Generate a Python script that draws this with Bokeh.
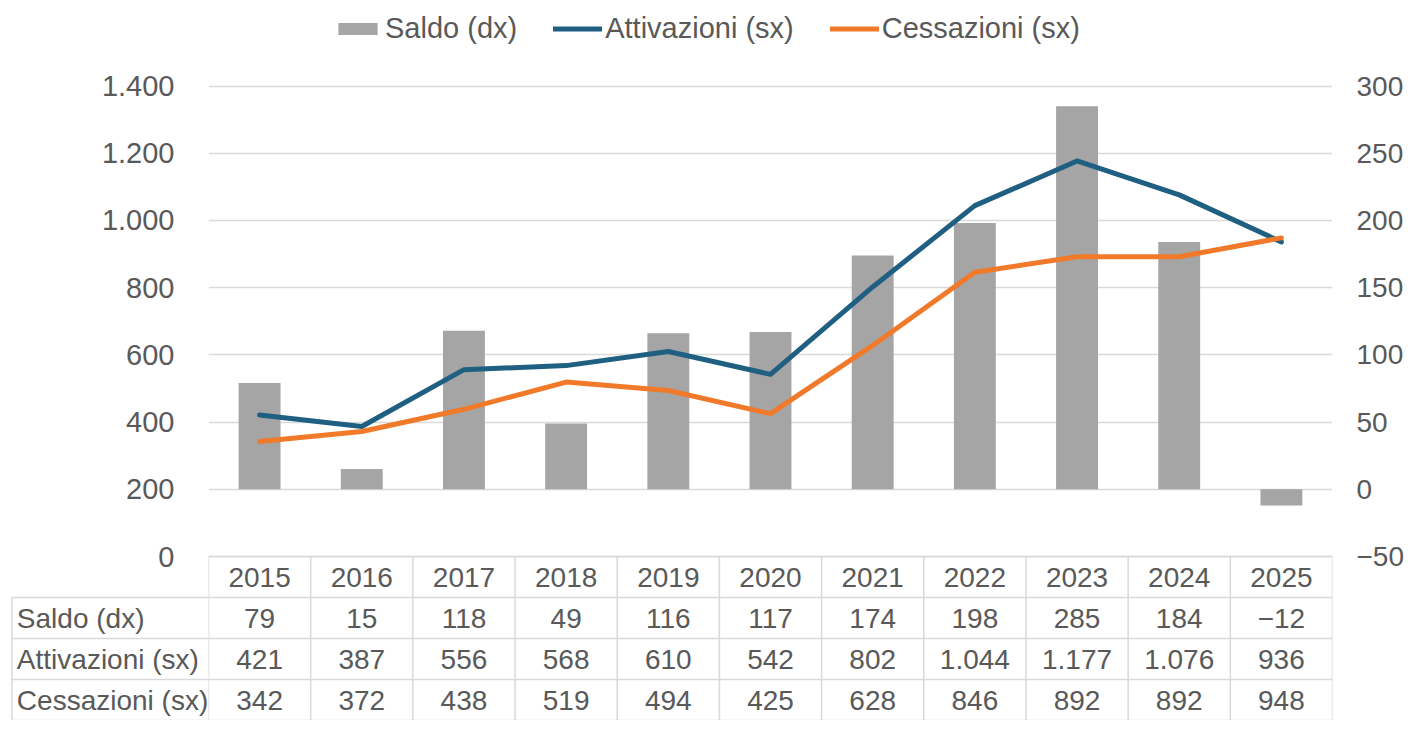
from bokeh.plotting import figure
from bokeh.models import (Range1d, LinearAxis, FixedTicker, Legend, LegendItem,
                          ColumnDataSource)
from bokeh.core.properties import value
from bokeh.embed import file_html
from bokeh.resources import INLINE

# ---------------- data ----------------
years = ["2015", "2016", "2017", "2018", "2019", "2020", "2021", "2022", "2023", "2024", "2025"]
saldo = [79, 15, 118, 49, 116, 117, 174, 198, 285, 184, -12]
attivazioni = [421, 387, 556, 568, 610, 542, 802, 1044, 1177, 1076, 936]
cessazioni = [342, 372, 438, 519, 494, 425, 628, 846, 892, 892, 948]
series_names = ["Saldo (dx)", "Attivazioni (sx)", "Cessazioni (sx)"]
left_ticks = [0, 200, 400, 600, 800, 1000, 1200, 1400]
right_ticks = [-50, 0, 50, 100, 150, 200, 250, 300]

# ---------------- styles / layout ----------------
FONT = "Liberation Sans"
TXT = "#595959"
GRID = "#D9D9D9"
C_BAR = "#A5A5A5"
C_ATT = "#1F5F82"
C_CES = "#F07A2A"

W, H = 1406, 720
B_LEFT, B_RIGHT = 208, 66
Y0_PX = 556.0      # canvas y of left value 0
YTOP_PX = 85.5     # canvas y of left value 1400
ROW_H = 41.0
LABEL_COL_PX = 198.0

n = len(years)
colw = (W - B_LEFT - B_RIGHT) / n
scale = (Y0_PX - YTOP_PX) / left_ticks[-1]
l_start = -(H - Y0_PX) / scale
l_end = Y0_PX / scale
# right axis: left 0 -> -50, left 1400 -> 300
r_lo, r_hi = right_ticks[0], right_ticks[-1]
k = (r_hi - r_lo) / (left_ticks[-1] - left_ticks[0])
r_start = r_lo + l_start * k
r_end = r_lo + l_end * k

p = figure(width=W, height=H, output_backend="svg", toolbar_location=None,
           x_range=Range1d(0, n), y_range=Range1d(l_start, l_end),
           x_axis_location=None, y_axis_location=None, title=None,
           min_border_left=B_LEFT, min_border_right=B_RIGHT,
           min_border_top=0, min_border_bottom=0)
p.outline_line_color = None
p.background_fill_color = "white"
p.extra_y_ranges = {"saldo": Range1d(r_start, r_end),
                    "tbl": Range1d(-(H - Y0_PX), Y0_PX)}

p.xgrid.visible = False
p.ygrid.ticker = FixedTicker(ticks=left_ticks)
p.ygrid.grid_line_color = GRID
p.ygrid.grid_line_width = 1.3


def fmt(v):
    s = f"{abs(v):,}".replace(",", ".")
    return ("\u2212" + s) if v < 0 else s


yl = LinearAxis(ticker=FixedTicker(ticks=left_ticks),
                major_label_overrides={t: fmt(t) for t in left_ticks},
                axis_line_color=None, major_tick_line_color=None,
                minor_tick_line_color=None, major_label_standoff=28,
                major_label_text_font_size="29px", major_label_text_color=TXT,
                major_label_text_font=FONT)
p.add_layout(yl, "left")
yr = LinearAxis(y_range_name="saldo", ticker=FixedTicker(ticks=right_ticks),
                axis_line_color=None, major_tick_line_color=None,
                minor_tick_line_color=None, major_label_standoff=18,
                major_label_text_font_size="28px", major_label_text_color=TXT,
                major_label_text_font=FONT)
p.add_layout(yr, "right")

xs = [i + 0.5 for i in range(n)]
src = ColumnDataSource(dict(x=xs, saldo=saldo, att=attivazioni, ces=cessazioni))

bars = p.vbar(x="x", top="saldo", bottom=0, width=0.41, source=src,
              y_range_name="saldo", fill_color=C_BAR, line_color=None)
l_att = p.line(x="x", y="att", source=src, line_color=C_ATT, line_width=5,
               line_join="round", line_cap="round")
l_ces = p.line(x="x", y="ces", source=src, line_color=C_CES, line_width=5,
               line_join="round", line_cap="round")

legend = Legend(items=[LegendItem(label=series_names[0], renderers=[bars]),
                       LegendItem(label=series_names[1], renderers=[l_att]),
                       LegendItem(label=series_names[2], renderers=[l_ces])],
                orientation="horizontal", location=(125, H - 45),
                glyph_width=49, glyph_height=15, label_standoff=3, spacing=36,
                padding=0, margin=0, border_line_color=None,
                background_fill_alpha=0, label_text_font_size="29px",
                label_text_color=TXT, label_text_font=FONT)
p.add_layout(legend, "center")

# ---------------- data table ----------------
x_lab = -LABEL_COL_PX / colw
rows = [saldo, attivazioni, cessazioni]
n_rows = len(rows) + 1

# vertical lines of the value columns
p.segment(x0=list(range(n + 1)), x1=list(range(n + 1)),
          y0=[0] * (n + 1), y1=[-ROW_H * (n_rows + 1)] * (n + 1),
          y_range_name="tbl", line_color=GRID, line_width=1.5)
# top border of header row
p.segment(x0=[0], x1=[n], y0=[0], y1=[0], y_range_name="tbl",
          line_color=GRID, line_width=1.5)
# horizontal lines including the label column
hy = [-ROW_H * r for r in range(1, n_rows + 1)]
p.segment(x0=[x_lab] * len(hy), x1=[n] * len(hy), y0=hy, y1=hy,
          y_range_name="tbl", line_color=GRID, line_width=1.5, level="overlay")
p.segment(x0=[x_lab], x1=[x_lab], y0=[-ROW_H], y1=[-ROW_H * (n_rows + 1)],
          y_range_name="tbl", line_color=GRID, line_width=1.5, level="overlay")

# header
p.text(x=xs, y=[-ROW_H / 2] * n, text=years, y_range_name="tbl",
       text_align="center", text_baseline="middle", text_font=value(FONT),
       text_font_size="28px", text_color=TXT)
# values
for r, vals in enumerate(rows):
    yy = -ROW_H * (r + 1) - ROW_H / 2
    p.text(x=xs, y=[yy] * n, text=[fmt(v) for v in vals], y_range_name="tbl",
           text_align="center", text_baseline="middle", text_font=value(FONT),
           text_font_size="28px", text_color=TXT)
# row labels
p.text(x=[x_lab + 5 / colw] * len(rows),
       y=[-ROW_H * (r + 1) - ROW_H / 2 for r in range(len(rows))],
       text=series_names, y_range_name="tbl", text_align="left",
       text_baseline="middle", text_font=value(FONT), text_font_size="28px",
       text_color=TXT, level="overlay")

open("out.html", "w").write(file_html(p, INLINE))
